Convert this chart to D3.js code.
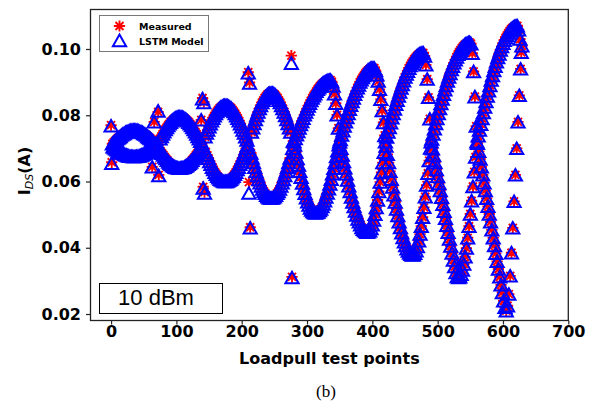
<!DOCTYPE html>
<html>
<head>
<meta charset="utf-8">
<script src="https://cdn.jsdelivr.net/npm/d3@7"></script>
<style>
  body { margin: 0; background: #fff; }
  svg { display: block; }
</style>
</head>
<body>
<div id="chart"></div>
<script>
// I_DS in mA. Test points are interleaved: even indices (0,2,4..628) and odd indices (1,3..629)
var measEven = [
  77.0,71.4,71.8,72.2,72.6,73.0,73.3,73.6,74.0,74.3,74.5,74.8,75.0,75.1,75.3,75.4,75.5,75.5,75.5,75.5,75.4,75.3,75.1,75.0,74.8,74.5,74.3,74.0,73.6,73.3,73.0,72.6,72.2,78.0,71.4,
  71.0,81.0,69.8,69.1,68.5,68.0,67.4,66.9,66.4,65.9,65.5,65.2,64.8,64.6,64.3,64.2,64.1,64.0,64.0,64.1,64.2,64.3,64.6,64.8,65.2,65.5,65.9,66.4,66.9,67.4,68.0,68.5,69.1,69.8,78.6,
  85.2,84.0,73.5,74.6,75.5,76.5,77.4,78.3,79.1,79.8,80.5,81.1,81.6,82.1,82.4,82.7,82.9,83.0,83.0,82.9,82.7,82.4,82.1,81.6,81.1,80.5,79.8,79.1,78.3,77.4,76.5,75.5,74.6,73.5,72.5,
  93.0,89.9,68.6,67.1,65.7,64.3,63.0,61.8,60.6,59.6,58.6,57.7,57.0,56.4,55.8,55.4,55.1,55.0,55.0,55.1,55.4,55.8,56.4,57.0,57.7,58.6,59.6,60.6,61.8,63.0,64.3,65.7,67.1,98.0,70.0,
  72.0,73.0,74.1,75.1,76.1,77.2,78.1,79.1,80.1,81.0,81.9,82.8,83.6,84.4,85.2,85.9,86.5,87.2,87.8,88.3,88.8,89.2,89.6,89.9,90.1,90.3,90.5,90.6,90.6,90.1,88.8,86.5,83.6,80.1,76.1,
  72.0,70.0,68.0,66.0,64.1,62.3,60.4,58.7,57.0,55.3,53.8,52.4,51.1,49.9,48.7,47.8,46.9,46.1,45.6,45.2,44.9,44.7,44.8,45.1,45.8,46.9,48.4,50.1,52.1,54.4,57.0,59.8,62.7,65.7,68.8,
  72.0,73.4,74.9,76.3,77.7,79.2,80.5,81.9,83.3,84.5,85.8,87.0,88.2,89.3,90.4,91.5,92.4,93.3,94.2,95.0,95.7,96.3,96.9,97.4,97.8,98.2,98.5,98.6,98.8,98.8,97.9,95.2,90.9,85.4,78.9,
  72.0,69.9,67.8,65.7,63.6,61.5,59.4,57.3,55.2,53.1,51.0,48.9,46.8,44.7,42.6,40.5,38.4,36.3,34.3,32.5,31.3,31.0,31.2,32.0,33.3,35.1,37.3,39.9,43.0,46.5,50.2,54.2,58.5,62.9,67.4,
  72.0,73.8,75.5,77.3,79.0,80.8,82.5,84.1,85.8,87.4,89.0,90.6,92.0,93.5,94.8,96.1,97.4,98.5,99.7,100.7,101.7,102.6,103.4,104.1,104.8,105.4,105.9,106.3,106.6,106.8,107.0,107.0,105.8,103.0,99.0
];
var measOdd = [
  65.8,70.5,70.2,69.9,69.6,69.3,69.1,68.8,68.6,68.4,68.2,68.0,67.8,67.7,67.6,67.6,67.5,67.5,67.5,67.6,67.6,67.7,67.8,68.0,68.2,68.4,68.6,68.8,69.1,69.3,69.6,64.4,70.2,70.5,70.8,
  71.4,62.0,72.9,73.6,74.3,75.0,75.7,76.3,76.9,77.4,77.9,78.3,78.7,79.0,79.2,79.4,79.5,79.5,79.5,79.4,79.2,79.0,78.7,78.3,77.9,77.4,76.9,76.3,75.7,75.0,74.3,73.6,72.9,72.1,71.4,
  58.4,56.8,68.9,67.9,67.0,66.0,65.2,64.3,63.6,62.8,62.2,61.6,61.1,60.7,60.4,60.2,60.0,60.0,60.0,60.2,60.4,60.7,61.1,61.6,62.2,62.8,63.6,64.3,65.2,66.0,67.0,67.9,68.9,70.0,71.0,
  59.8,46.2,74.9,76.2,77.5,78.7,79.9,81.0,82.0,82.9,83.8,84.5,85.2,85.7,86.2,86.5,86.7,86.7,86.7,86.5,86.2,85.7,85.2,84.5,83.8,82.9,82.0,81.0,79.9,78.7,77.5,76.2,74.9,31.2,72.2,
  71.0,68.9,66.9,65.0,63.1,61.3,59.5,57.9,56.4,55.1,53.9,52.9,52.0,51.4,50.9,50.6,50.5,50.6,50.8,51.2,51.7,52.4,53.2,54.2,55.3,56.5,57.8,59.2,60.7,62.3,64.0,65.7,67.5,69.3,71.1,
  72.7,74.0,75.3,76.7,78.0,79.3,80.5,81.8,83.0,84.1,85.2,86.3,87.3,88.3,89.1,90.0,90.7,91.4,92.0,92.6,93.1,93.5,93.8,94.1,94.2,94.3,94.2,93.5,92.2,90.3,87.8,84.8,81.4,77.8,73.9,
  70.7,68.2,65.7,63.1,60.7,58.3,56.0,53.8,51.7,49.7,47.8,46.1,44.5,43.1,41.8,40.7,39.7,39.0,38.4,38.0,37.8,37.9,38.3,39.1,40.4,42.1,44.1,46.5,49.2,52.2,55.4,58.9,62.5,66.3,70.1,
  72.8,74.3,75.9,77.5,79.0,80.5,82.0,83.5,84.9,86.3,87.7,89.0,90.3,91.5,92.6,93.8,94.8,95.8,96.7,97.6,98.4,99.1,99.7,100.3,100.8,101.2,101.5,101.7,101.9,102.0,101.6,98.7,93.2,85.6,76.7,
  71.5,69.1,66.8,64.4,62.0,59.6,57.3,54.9,52.5,50.2,47.8,45.4,43.0,40.7,38.3,35.9,33.6,31.2,28.8,26.5,24.0,22.0,21.0,22.5,26.0,31.5,38.5,46.0,54.0,62.0,70.0,78.0,86.0,94.0,101.0
];
var modelEven = [
  76.8,71.4,71.8,72.2,72.6,73.0,73.3,73.6,74.0,74.3,74.5,74.8,75.0,75.1,75.3,75.4,75.5,75.5,75.5,75.5,75.4,75.3,75.1,75.0,74.8,74.5,74.3,74.0,73.6,73.3,73.0,72.6,72.2,78.0,71.4,
  71.0,81.3,69.8,69.1,68.5,68.0,67.4,66.9,66.4,65.9,65.5,65.2,64.8,64.6,64.3,64.2,64.1,64.0,64.0,64.1,64.2,64.3,64.6,64.8,65.2,65.5,65.9,66.4,66.9,67.4,68.0,68.5,69.1,69.8,78.6,
  85.0,83.8,73.5,74.6,75.5,76.5,77.4,78.3,79.1,79.8,80.5,81.1,81.6,82.1,82.4,82.7,82.9,83.0,83.0,82.9,82.7,82.4,82.1,81.6,81.1,80.5,79.8,79.1,78.3,77.4,76.5,75.5,74.6,73.5,72.5,
  92.8,89.7,68.6,67.1,65.7,64.3,63.0,61.8,60.6,59.6,58.6,57.7,57.0,56.4,55.8,55.4,55.1,55.0,55.0,55.1,55.4,55.8,56.4,57.0,57.7,58.6,59.6,60.6,61.8,63.0,64.3,65.7,67.1,95.7,70.0,
  72.0,73.0,74.1,75.1,76.1,77.2,78.1,79.1,80.1,81.0,81.9,82.8,83.6,84.4,85.2,85.9,86.5,87.2,87.8,88.3,88.8,89.2,89.6,89.9,90.1,90.3,90.5,90.6,90.6,90.1,88.8,86.5,83.6,80.1,76.1,
  72.0,70.0,68.0,66.0,64.1,62.3,60.4,58.7,57.0,55.3,53.8,52.4,51.1,49.9,48.7,47.8,46.9,46.1,45.6,45.2,44.9,44.7,44.8,45.1,45.8,46.9,48.4,50.1,52.1,54.4,57.0,59.8,62.7,65.7,68.8,
  72.0,73.4,74.9,76.3,77.7,79.2,80.5,81.9,83.3,84.5,85.8,87.0,88.2,89.3,90.4,91.5,92.4,93.3,94.2,95.0,95.7,96.3,96.9,97.4,97.8,98.2,98.5,98.6,98.8,98.8,97.9,95.2,90.9,85.4,78.9,
  72.0,69.9,67.8,65.7,63.6,61.5,59.4,57.3,55.2,53.1,51.0,48.9,46.8,44.7,42.6,40.5,38.4,36.3,34.3,32.5,31.3,31.0,31.2,32.0,33.3,35.1,37.3,39.9,43.0,46.5,50.2,54.2,58.5,62.9,67.4,
  72.0,73.8,75.5,77.3,79.0,80.8,82.5,84.1,85.8,87.4,89.0,90.6,92.0,93.5,94.8,96.1,97.4,98.5,99.7,100.7,101.7,102.6,103.4,104.1,104.8,105.4,105.9,106.3,106.6,106.8,107.0,107.0,105.8,103.0,99.0
];
var modelOdd = [
  65.5,70.5,70.2,69.9,69.6,69.3,69.1,68.8,68.6,68.4,68.2,68.0,67.8,67.7,67.6,67.6,67.5,67.5,67.5,67.6,67.6,67.7,67.8,68.0,68.2,68.4,68.6,68.8,69.1,69.3,69.6,64.4,70.2,70.5,70.8,
  71.4,61.8,72.9,73.6,74.3,75.0,75.7,76.3,76.9,77.4,77.9,78.3,78.7,79.0,79.2,79.4,79.5,79.5,79.5,79.4,79.2,79.0,78.7,78.3,77.9,77.4,76.9,76.3,75.7,75.0,74.3,73.6,72.9,72.1,71.4,
  58.0,56.5,68.9,67.9,67.0,66.0,65.2,64.3,63.6,62.8,62.2,61.6,61.1,60.7,60.4,60.2,60.0,60.0,60.0,60.2,60.4,60.7,61.1,61.6,62.2,62.8,63.6,64.3,65.2,66.0,67.0,67.9,68.9,70.0,71.0,
  56.5,46.0,74.9,76.2,77.5,78.7,79.9,81.0,82.0,82.9,83.8,84.5,85.2,85.7,86.2,86.5,86.7,86.7,86.7,86.5,86.2,85.7,85.2,84.5,83.8,82.9,82.0,81.0,79.9,78.7,77.5,76.2,74.9,31.0,72.2,
  71.0,68.9,66.9,65.0,63.1,61.3,59.5,57.9,56.4,55.1,53.9,52.9,52.0,51.4,50.9,50.6,50.5,50.6,50.8,51.2,51.7,52.4,53.2,54.2,55.3,56.5,57.8,59.2,60.7,62.3,64.0,65.7,67.5,69.3,71.1,
  72.7,74.0,75.3,76.7,78.0,79.3,80.5,81.8,83.0,84.1,85.2,86.3,87.3,88.3,89.1,90.0,90.7,91.4,92.0,92.6,93.1,93.5,93.8,94.1,94.2,94.3,94.2,93.5,92.2,90.3,87.8,84.8,81.4,77.8,73.9,
  70.7,68.2,65.7,63.1,60.7,58.3,56.0,53.8,51.7,49.7,47.8,46.1,44.5,43.1,41.8,40.7,39.7,39.0,38.4,38.0,37.8,37.9,38.3,39.1,40.4,42.1,44.1,46.5,49.2,52.2,55.4,58.9,62.5,66.3,70.1,
  72.8,74.3,75.9,77.5,79.0,80.5,82.0,83.5,84.9,86.3,87.7,89.0,90.3,91.5,92.6,93.8,94.8,95.8,96.7,97.6,98.4,99.1,99.7,100.3,100.8,101.2,101.5,101.7,101.9,102.0,101.6,98.7,93.2,85.6,76.7,
  71.5,69.1,66.8,64.4,62.0,59.6,57.3,54.9,52.5,50.2,47.8,45.4,43.0,40.7,38.3,35.9,33.6,31.2,28.8,26.5,24.0,22.0,21.0,22.5,26.0,31.5,38.5,46.0,54.0,62.0,70.0,78.0,86.0,94.0,101.0
];

var xTicks = [0, 100, 200, 300, 400, 500, 600, 700],
    yTicks = [0.02, 0.04, 0.06, 0.08, 0.10];

var width = 600,
    height = 404,
    plot = {left: 90.5, right: 568.3, top: 9.5, bottom: 320.5};

var boldFont = "'DejaVu Sans', Verdana, sans-serif";

// put even and odd test points back in one list, mA -> A
function toPoints(even, odd) {
  var pts = [];
  even.forEach(function(v, k) { pts.push({i: 2 * k, v: v / 1000}); });
  odd.forEach(function(v, k) { pts.push({i: 2 * k + 1, v: v / 1000}); });
  return pts.sort(function(a, b) { return a.i - b.i; });
}
var measured = toPoints(measEven, measOdd),
    model = toPoints(modelEven, modelOdd);

var svg = d3.select("#chart").append("svg")
  .attr("width", width)
  .attr("height", height);

svg.append("rect")
  .attr("width", width)
  .attr("height", height)
  .attr("fill", "#fff");

var x = d3.scaleLinear()
  .domain([-31.5, 700])
  .range([plot.left, plot.right]);

var y = d3.scaleLinear()
  .domain([0.01804, 0.11192])
  .range([plot.bottom, plot.top]);

var asterisk = "M0,-5.6V5.6M-5.6,0H5.6M-4,-4L4,4M-4,4L4,-4",
    triangle = "M0,-5.9L6.6,5.7L-6.6,5.7Z";

// measured first, model drawn over it
svg.append("g").selectAll("path")
  .data(measured)
  .enter()
  .append("path")
  .attr("d", asterisk)
  .attr("transform", function(d) { return "translate(" + x(d.i) + "," + y(d.v) + ")"; })
  .style("fill", "none")
  .style("stroke", "#ff0000")
  .style("stroke-width", 1.9);

svg.append("g").selectAll("path")
  .data(model)
  .enter()
  .append("path")
  .attr("d", triangle)
  .attr("transform", function(d) { return "translate(" + x(d.i) + "," + y(d.v) + ")"; })
  .style("fill", "none")
  .style("stroke", "#0000ff")
  .style("stroke-width", 2);

// axes
var xAxis = svg.append("g")
  .attr("transform", "translate(0," + plot.bottom + ")")
  .call(d3.axisBottom(x).tickValues(xTicks).tickSize(4).tickSizeOuter(0).tickPadding(1.5));

var yAxis = svg.append("g")
  .attr("transform", "translate(" + plot.left + ",0)")
  .call(d3.axisLeft(y).tickValues(yTicks).tickFormat(d3.format(".2f")).tickSize(4.5).tickSizeOuter(0).tickPadding(5));

[xAxis, yAxis].forEach(function(g) {
  g.select(".domain").remove();
  g.selectAll("line").style("stroke", "#222").style("stroke-width", 1.2);
  g.selectAll("text")
    .style("font-family", boldFont)
    .style("font-weight", "bold")
    .style("font-size", "16px")
    .style("fill", "#000");
});

svg.append("rect")
  .attr("x", plot.left)
  .attr("y", plot.top)
  .attr("width", plot.right - plot.left)
  .attr("height", plot.bottom - plot.top)
  .style("fill", "none")
  .style("stroke", "#222")
  .style("stroke-width", 1.3);

// axis titles
svg.append("text")
  .attr("x", (plot.left + plot.right) / 2)
  .attr("y", 364)
  .attr("text-anchor", "middle")
  .style("font-family", boldFont)
  .style("font-weight", "bold")
  .style("font-size", "16px")
  .text("Loadpull test points");

var yl = svg.append("text")
  .attr("transform", "translate(30,171) rotate(-90)")
  .attr("text-anchor", "middle")
  .style("font-family", boldFont)
  .style("font-weight", "bold")
  .style("font-size", "16px");
yl.append("tspan").text("I");
yl.append("tspan").attr("dy", 3).style("font-size", "11px").style("font-weight", "normal")
  .style("font-style", "italic").text("DS");
yl.append("tspan").attr("dy", -3).text("(A)");

svg.append("text")
  .attr("x", 326)
  .attr("y", 397)
  .attr("text-anchor", "middle")
  .style("font-family", "'Liberation Serif', 'Times New Roman', serif")
  .style("font-size", "17px")
  .text("(b)");

// legend
var legend = svg.append("g");
legend.append("rect")
  .attr("x", 99.5).attr("y", 15.5)
  .attr("width", 109).attr("height", 36)
  .style("fill", "#fff")
  .style("stroke", "#777")
  .style("stroke-width", 1);

legend.append("path")
  .attr("d", asterisk)
  .attr("transform", "translate(119.5,26)")
  .style("fill", "none").style("stroke", "#ff0000").style("stroke-width", 1.9);
legend.append("path")
  .attr("d", triangle)
  .attr("transform", "translate(119.5,40.5)")
  .style("fill", "none").style("stroke", "#0000ff").style("stroke-width", 2);

legend.selectAll("text")
  .data(["Measured", "LSTM Model"])
  .enter()
  .append("text")
  .attr("x", 139)
  .attr("y", function(d, i) { return 30 + i * 15; })
  .style("font-family", boldFont)
  .style("font-weight", "bold")
  .style("font-size", "9.5px")
  .text(function(d) { return d; });

// power level box
svg.append("rect")
  .attr("x", 99.5).attr("y", 283.5)
  .attr("width", 123).attr("height", 30)
  .style("fill", "#fff")
  .style("stroke", "#000")
  .style("stroke-width", 1);
svg.append("text")
  .attr("x", 156)
  .attr("y", 305)
  .attr("text-anchor", "middle")
  .style("font-family", "'Liberation Sans', Arial, sans-serif")
  .style("font-size", "22px")
  .text("10 dBm");
</script>
</body>
</html>
